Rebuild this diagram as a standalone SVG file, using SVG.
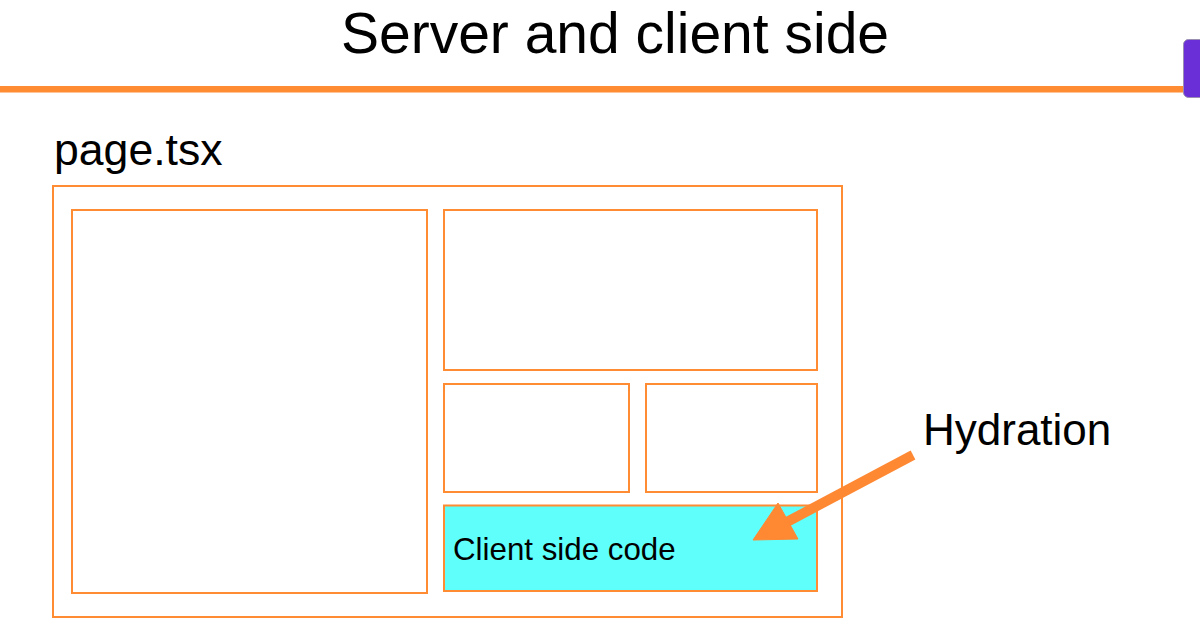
<svg xmlns="http://www.w3.org/2000/svg" width="1200" height="627" viewBox="0 0 1200 627">
<style>
.t{font-family:"Liberation Sans",Arial,sans-serif;fill:#000}
.box{fill:#fff;stroke:#ff8c33;stroke-width:2}
.arrow{fill:#ff8833;stroke:#ff8833}
</style>
<rect width="1200" height="627" fill="#fff"/>
<g id="title">
<text class="t" x="615" y="53" font-size="57" text-anchor="middle">Server and client side</text>
<rect x="0" y="86" width="1184" height="6.5" fill="#ff8c33"/>
<rect x="1183.5" y="39.5" width="30" height="58" rx="5" fill="#6a2fd6" stroke="#9a8fb0" stroke-width="1"/>
</g>
<g id="page">
<text class="t" x="54" y="165" font-size="44.6">page.tsx</text>
<rect class="box" x="53" y="186" width="789" height="431"/>
</g>
<g id="left-box"><rect class="box" x="72" y="210" width="355" height="383"/></g>
<g id="top-right-box"><rect class="box" x="444" y="210" width="373" height="160"/></g>
<g id="mid-left-box"><rect class="box" x="444" y="384" width="185" height="108"/></g>
<g id="mid-right-box"><rect class="box" x="646" y="384" width="171" height="108"/></g>
<g id="client-box">
<rect x="444" y="505.5" width="373" height="85.5" fill="#5ffffb" stroke="#ff8c33" stroke-width="2"/>
<text class="t" x="453" y="560" font-size="31.3">Client side code</text>
</g>
<g id="hydration-label">
<text class="t" x="923" y="445" font-size="44">Hydration</text>
</g>
<g id="connectors">
<line x1="913" y1="455" x2="785" y2="523" stroke="#ff8833" stroke-width="10"/>
<polygon class="arrow" points="753,540 778,503 798,539"/>
</g>
</svg>
